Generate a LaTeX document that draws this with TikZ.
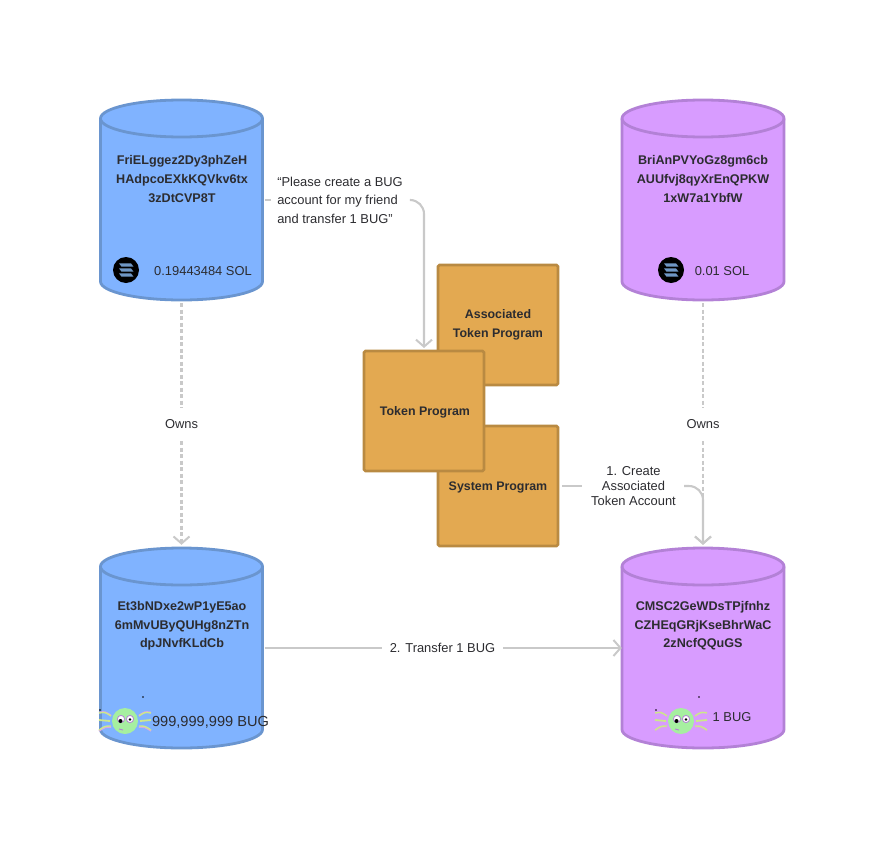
\documentclass[tikz,border=0pt]{standalone}
\usepackage{fontspec}
\setmainfont{Liberation Sans}
\usetikzlibrary{arrows.meta,calc}
\definecolor{bluefill}{HTML}{80B3FF}
\definecolor{blueline}{HTML}{6A95CF}
\definecolor{purplefill}{HTML}{D89CFF}
\definecolor{purpleline}{HTML}{B381D6}
\definecolor{progfill}{HTML}{E3A951}
\definecolor{progline}{HTML}{B98A42}
\definecolor{linkgrey}{HTML}{C9C9C9}
\definecolor{inkgrey}{HTML}{2C2C30}
\definecolor{buggreen}{HTML}{A6EFA0}
\definecolor{leglime}{HTML}{CDE88A}
\definecolor{legpink}{HTML}{D9A6E8}
\definecolor{barblue}{HTML}{6F97C4}
\tikzset{
  account/.style={minimum width=162pt,minimum height=200pt,inner sep=0pt},
  bluecyl/.style={fill=bluefill,draw=blueline,line width=2.8pt},
  purplecyl/.style={fill=purplefill,draw=purpleline,line width=2.8pt},
  program/.style={draw=progline,fill=progfill,line width=2.8pt,rounded corners=1.5pt,
    minimum width=120pt,minimum height=120pt,inner sep=0pt},
  addr/.style={font=\fontsize{12.6}{18.6}\selectfont\bfseries,text=inkgrey,align=center},
  progname/.style={font=\fontsize{12.4}{18.6}\selectfont\bfseries,text=inkgrey,align=center},
  plain/.style={font=\fontsize{12.9}{18.4}\selectfont,text=inkgrey,align=center},
  tight/.style={font=\fontsize{12.9}{15}\selectfont,text=inkgrey,align=center},
  link/.style={draw=linkgrey,line width=2.1pt,rounded corners=14pt},
  linkhead/.style={link,-{Straight Barb[length=7pt,width=16pt,line width=2pt]}},
  owns/.style={draw=linkgrey,line width=2.1pt,dash pattern=on 4pt off 2.5pt},
  ownshead/.style={owns,-{Straight Barb[length=7pt,width=16pt,line width=2pt]}},
  pics/sollogo/.style={code={
    \fill[black] (0,0) circle (13);
    \foreach \y in {-5,0,5}
      \fill[barblue] (-7,\y-1.6) -- (5,\y-1.6) -- (7.5,\y+1.6) -- (-4.5,\y+1.6) -- cycle;
  }},
  pics/bugicon/.style={code={
    % legs
    \foreach \s in {-1,1} {
      \draw[legpink,line width=1.6pt] (\s*14,-5.5) .. controls (\s*20,-9.5) .. (\s*26,-8.5);
      \draw[leglime,line width=1.4pt] (\s*14,-5) .. controls (\s*20,-9) .. (\s*26,-8);
      \draw[leglime,line width=1.8pt] (\s*15,0) -- (\s*26,-1);
      \draw[legpink,line width=1.6pt] (\s*14,6) .. controls (\s*20,6) .. (\s*26,10);
      \draw[leglime,line width=1.4pt] (\s*14,5) .. controls (\s*20,5) .. (\s*26,9);
    }
    \fill[buggreen] (0,0) circle (13);
    % eyes
    \fill[white,draw=purpleline,line width=0.8pt] (-4,-2) circle (3.6) (5,-2) circle (3.6);
    \fill[black] (-4.5,0) circle (2) (5,-1.5) circle (1.4);
    \draw[purpleline,line width=0.9pt] (-6,8) -- (-2,9);
    % specks
    \fill[black] (-25,-11) circle (0.8) (18,-24) circle (0.8);
  }},
}
% name, x, y, look
\newcommand{\accountcyl}[4]{
  \node[account] (#1) at (#2,#3) {};
  \draw[#4] (#2-81,#3-81.5) -- (#2-81,#3+81.5)
    arc[start angle=180,end angle=0,x radius=81,y radius=18.5]
    -- (#2+81,#3-81.5)
    arc[start angle=0,end angle=-180,x radius=81,y radius=18.5] -- cycle;
  \draw[#4,fill=none] (#2-81,#3-81.5)
    arc[start angle=180,end angle=0,x radius=81,y radius=18.5];
}
\begin{document}
\begin{tikzpicture}[x=1pt,y=-1pt]
  \useasboundingbox (0,0) rectangle (885,848);
  % accounts
  \accountcyl{owner}{181.5}{200}{bluecyl}
  \accountcyl{friend}{703}{200}{purplecyl}
  \accountcyl{source}{181.5}{648}{bluecyl}
  \accountcyl{target}{703}{648}{purplecyl}
  % programs
  \node[program] (assoc) at (498,325) {};
  \node[program] (system) at (498,486) {};
  \node[program] (token) at (424,411) {};
  \node[progname,anchor=center] (assoclabel) at (498,325) {Associated\\Token Program};
  \node[progname] (systemlabel) at (498,487) {System Program};
  \node[progname] (tokenlabel) at (425,412) {Token Program};
  % addresses
  \node[addr] (owneraddr) at (182,179) {FriELggez2Dy3phZeH\\HAdpcoEXkKQVkv6tx\\3zDtCVP8T};
  \node[addr] (friendaddr) at (703,179) {BriAnPVYoGz8gm6cb\\AUUfvj8qyXrEnQPKW\\1xW7a1YbfW};
  \node[addr] (sourceaddr) at (182,626) {Et3bNDxe2wP1yE5ao\\6mMvUByQUHg8nZTn\\dpJNvfKLdCb};
  \node[addr] (targetaddr) at (703,626) {CMSC2GeWDsTPjfnhz\\CZHEqGRjKseBhrWaC\\2zNcfQQuGS};
  % balances
  \pic at (126,270) {sollogo};
  \pic at (671,270) {sollogo};
  \pic at (125,721) {bugicon};
  \pic at (681,721) {bugicon};
  \node[plain] (ownerbal) at (203,271) {0.19443484 SOL};
  \node[plain] (friendbal) at (722,271) {0.01 SOL};
  \node[plain,font=\fontsize{14.6}{18}\selectfont] (sourcebal) at (210.5,722) {999,999,999 BUG};
  \node[plain] (targetbal) at (732,717) {1 BUG};
  % labels on the links
  \node[plain,align=left,inner sep=0pt] (ask) at (340,200) {``Please create a BUG\\account for my friend\\and transfer 1 BUG''};
  \node[plain,inner sep=0pt] (ownsleft) at (181.5,424) {Owns};
  \node[plain,inner sep=0pt] (ownsright) at (703,424) {Owns};
  \node[tight,inner sep=0pt] (create) at (633.5,486) {1. Create\\Associated\\Token Account};
  \node[plain,inner sep=0pt] (transfer) at (442.5,648) {2. Transfer 1 BUG};
  % links
  \draw[owns] (owner.south) ++(0,3) -- (ownsleft.north |- 0,408);
  \draw[ownshead] (ownsleft.south |- 0,441) -- ($(source.north)+(0,-3)$);
  \draw[owns] (friend.south) ++(0,3) -- (ownsright.north |- 0,408);
  \draw[ownshead] (ownsright.south |- 0,441) -- ($(target.north)+(0,-3)$);
  \draw[link,shorten >=6pt] (owner.east) ++(2,0) -- (ask.west);
  \draw[linkhead] (ask.east) ++(8,0) -| (424,348);
  \draw[link,shorten >=9pt] (system.east) ++(3,0) -- (create.west);
  \draw[linkhead] (create.east) ++(8,0) -| ($(target.north)+(0,-3)$);
  \draw[link,shorten >=8pt] (source.east) ++(2,0) -- (transfer.west);
  \draw[linkhead] (transfer.east) ++(8,0) -- (target.west);
\end{tikzpicture}
\end{document}
